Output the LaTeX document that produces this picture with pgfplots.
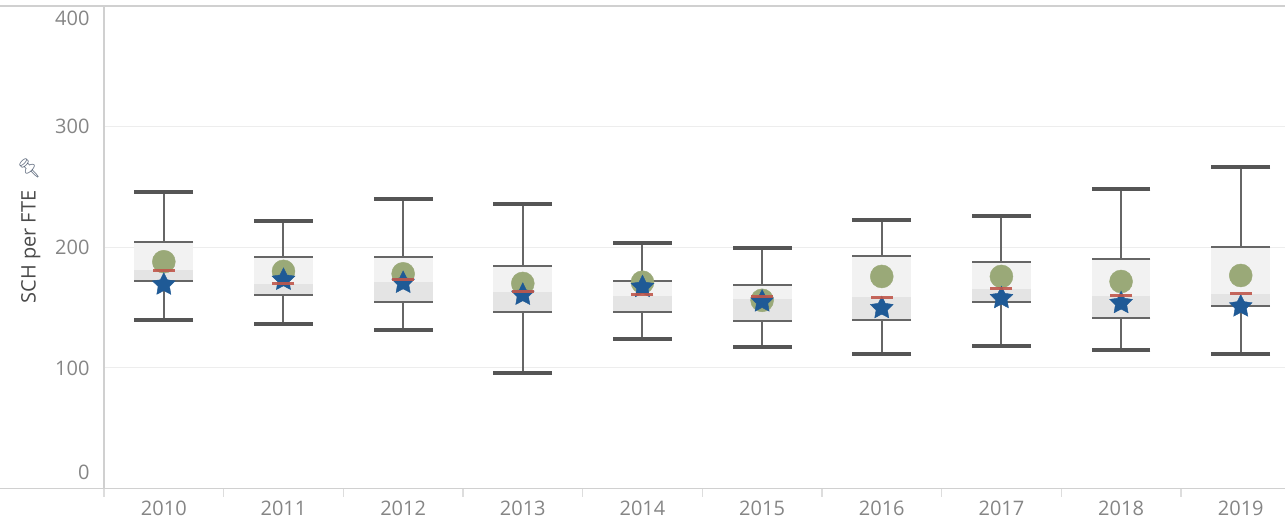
\documentclass[border=0pt]{standalone}
\usepackage{fontspec}
\setmainfont{Open Sans}
\newfontfamily\emojifont{Noto Emoji}
\usepackage{pgfplots}
\usepackage{pgfplotstable}
\pgfplotsset{compat=1.18}
\definecolor{labelgray}{HTML}{858585}
\definecolor{titlegray}{HTML}{4A4A4A}
\definecolor{pingray}{HTML}{5F6B7E}
\definecolor{gridgray}{HTML}{EDEDED}
\definecolor{axisgray}{HTML}{D0D0D0}
\definecolor{tickgray}{HTML}{DDDDDD}
\definecolor{whisk}{HTML}{666666}
\definecolor{capc}{HTML}{555555}
\definecolor{boxhi}{HTML}{F2F2F2}
\definecolor{boxlo}{HTML}{E4E4E4}
\definecolor{circc}{HTML}{9AA978}
\definecolor{starc}{HTML}{1F5A96}
\definecolor{redc}{HTML}{C0574B}

\pgfdeclareplotmark{fstar}{%
  \pgfpathmoveto{\pgfpointpolar{90}{\pgfplotmarksize}}%
  \pgfpathlineto{\pgfpointpolar{126}{0.5\pgfplotmarksize}}%
  \pgfpathlineto{\pgfpointpolar{162}{\pgfplotmarksize}}%
  \pgfpathlineto{\pgfpointpolar{198}{0.5\pgfplotmarksize}}%
  \pgfpathlineto{\pgfpointpolar{234}{\pgfplotmarksize}}%
  \pgfpathlineto{\pgfpointpolar{270}{0.5\pgfplotmarksize}}%
  \pgfpathlineto{\pgfpointpolar{306}{\pgfplotmarksize}}%
  \pgfpathlineto{\pgfpointpolar{342}{0.5\pgfplotmarksize}}%
  \pgfpathlineto{\pgfpointpolar{18}{\pgfplotmarksize}}%
  \pgfpathlineto{\pgfpointpolar{54}{0.5\pgfplotmarksize}}%
  \pgfpathclose
  \pgfusepathqfillstroke
}

\pgfplotstableread{
x lw q1 med q3 uw circ red star
0 140 172 181 204 245.5 188 181 169
1 136 160.6 169.5 191.6 221.4 180 169.7 173
2 131 155 171 191.6 240 178 173.6 170.5
3 96 146.7 162.5 184.4 235.8 170 163.3 160.6
4 124 146.7 160 172.2 203.5 171 160.6 167
5 117 138.5 157 169 199 156 159 155
6 111.4 139.8 158.7 193 222.8 175.8 158.7 149.5
7 118.3 155 165.6 187.4 225.6 175.8 166 157.8
8 115 141.2 160 190.2 248.3 171.6 160 153.7
9 111.6 151.5 161.2 199.8 266.5 176.6 161.4 150.9
}\boxdata

\begin{document}
\begin{tikzpicture}
\begin{axis}[
  at={(0,0)}, anchor=south west,
  scale only axis, width=590.5pt, height=241.25pt,
  xmin=-0.5, xmax=9.37, ymin=0, ymax=400,
  axis line style={draw=none},
  clip=false,
  xtick={0,...,9},
  xticklabels={2010,2011,2012,2013,2014,2015,2016,2017,2018,2019},
  minor xtick={-0.5,0.5,...,8.5},
  xtick pos=bottom, ytick pos=left,
  major tick length=0pt, minor tick length=4pt, tick align=outside,
  minor tick style={draw=tickgray, line width=0.6pt},
  ytick={0,100,200,300,400},
  yticklabels={\raisebox{4.7pt}[0pt][0pt]{0},100,200,300,\raisebox{-9.55pt}[0pt][0pt]{400}},
  ymajorgrids, grid style={draw=gridgray, line width=0.5pt},
  tick label style={font=\fontsize{10}{12}\selectfont},
  xticklabel style={text=labelgray, yshift=-2.5pt},
  yticklabel style={text=labelgray, xshift=-3.7pt},
  ylabel={SCH per FTE\enspace{\emojifont\fontsize{9.5}{9.5}\selectfont\color{pingray}📌}},
  every axis y label/.style={at={(axis description cs:-0.0627,0.536)}, rotate=90, anchor=center, font=\fontsize{10}{12}\selectfont, text=titlegray},
]
% whiskers
\addplot[draw=none, no markers, forget plot,
  error bars/.cd, y dir=both, y explicit, error mark=none,
  error bar style={line width=1pt, draw=whisk}]
  table[x=x, y=med, y error plus expr=\thisrow{uw}-\thisrow{med}, y error minus expr=\thisrow{med}-\thisrow{lw}] {\boxdata};
% upper box
\addplot[draw=none, no markers, forget plot,
  error bars/.cd, y dir=plus, y explicit, error mark=none,
  error bar style={line width=29.4pt, draw=boxhi}]
  table[x=x, y=med, y error plus expr=\thisrow{q3}-\thisrow{med}] {\boxdata};
% lower box
\addplot[draw=none, no markers, forget plot,
  error bars/.cd, y dir=minus, y explicit, error mark=none,
  error bar style={line width=29.4pt, draw=boxlo}]
  table[x=x, y=med, y error minus expr=\thisrow{med}-\thisrow{q1}] {\boxdata};
% box edges
\addplot[only marks, mark=-, mark size=14.7pt, mark options={line width=1pt, draw=whisk}] table[x=x, y=q1] {\boxdata};
\addplot[only marks, mark=-, mark size=14.7pt, mark options={line width=1pt, draw=whisk}] table[x=x, y=q3] {\boxdata};
% caps
\addplot[only marks, mark=-, mark size=14.7pt, mark options={line width=2pt, draw=capc}] table[x=x, y=lw] {\boxdata};
\addplot[only marks, mark=-, mark size=14.7pt, mark options={line width=2pt, draw=capc}] table[x=x, y=uw] {\boxdata};
% circles
\addplot[only marks, mark=*, mark size=5.75pt, mark options={fill=circc, draw=circc, line width=0.2pt}] table[x=x, y=circ] {\boxdata};
% stars
\addplot[only marks, mark=fstar, mark size=6pt, mark options={fill=starc, draw=starc, line width=0.2pt}] table[x=x, y=star] {\boxdata};
% red lines
\addplot[only marks, mark=-, mark size=5.5pt, mark options={line width=1.5pt, draw=redc, opacity=0.9}] table[x=x, y=red] {\boxdata};
% borders
\draw[axisgray, line width=0.6pt] (rel axis cs:-0.088,0) -- (rel axis cs:1,0);
\draw[axisgray, line width=0.6pt] (rel axis cs:-0.088,1) -- (rel axis cs:1,1);
\draw[axisgray, line width=0.6pt] (rel axis cs:0,1) -- (rel axis cs:0,0);
\end{axis}
\pgfresetboundingbox
\path[use as bounding box] (-52pt,-16.25pt) rectangle (590.5pt,244.25pt);
\end{tikzpicture}
\end{document}
